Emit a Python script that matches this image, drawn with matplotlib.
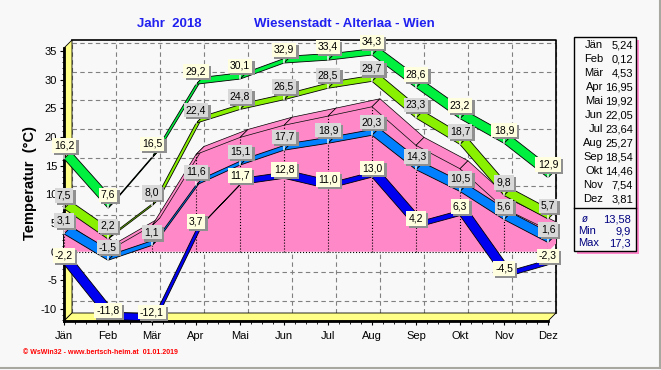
import matplotlib
matplotlib.use("Agg")
import matplotlib.pyplot as plt
import matplotlib.patheffects as pe
from matplotlib.patches import Polygon, Rectangle
import numpy as np

plt.rcParams["font.family"] = ["Liberation Sans", "DejaVu Sans"]
plt.rcParams["axes.unicode_minus"] = False

months = ["Jän", "Feb", "Mär", "Apr", "Mai", "Jun", "Jul", "Aug", "Sep", "Okt", "Nov", "Dez"]
abs_max = [16.2, 7.6, 16.5, 29.2, 30.1, 32.9, 33.4, 34.3, 28.6, 23.2, 18.9, 12.9]
mean_max = [7.5, 2.2, 8.0, 22.4, 24.8, 26.5, 28.5, 29.7, 23.3, 18.7, 9.8, 5.7]
mean_min = [3.1, -1.5, 1.1, 11.6, 15.1, 17.7, 18.9, 20.3, 14.3, 10.5, 5.6, 1.6]
abs_min = [-2.2, -11.8, -12.1, 3.7, 11.7, 12.8, 11.0, 13.0, 4.2, 6.3, -4.5, -2.3]
mean = [5.24, 0.12, 4.53, 16.95, 19.92, 22.05, 23.64, 25.27, 18.54, 14.46, 7.54, 3.81]
stat_names = ["ø", "Min", "Max"]
stat_values = [13.58, 9.9, 17.3]

W, H = 661, 370
BG = "#f8f8f8"
PINK = "#ff88c8"


def de(v, nd=1):
    return f"{v:.{nd}f}".replace(".", ",")


fig = plt.figure(figsize=(W / 100, H / 100), dpi=100, facecolor=BG)

# overlay in pixel coordinates for the text furniture
ov = fig.add_axes([0, 0, 1, 1])
ov.set_xlim(0, W)
ov.set_ylim(H, 0)
ov.axis("off")

# front plane of the pseudo-3D plot
x0, x1, ytop, ybot = 64, 548, 48, 321
ylo, yhi = -12.09, 35.52
ax = fig.add_axes([x0 / W, (H - ybot) / H, (x1 - x0) / W, (ybot - ytop) / H])
ax.set_xlim(0, 11)
ax.set_ylim(ylo, yhi)
ax.patch.set_visible(False)
px_x = (x1 - x0) / 11
px_y = (ybot - ytop) / (yhi - ylo)


def depth(px):
    return px / px_x, px / px_y


xs = np.arange(12)

# back grid, walls, frame
gdx, gdy = depth(8)
for yv in range(-10, 36, 5):
    ax.plot([gdx, 11 + gdx], [yv + gdy] * 2, color="#808080", ls=(0, (4, 3)),
            lw=0.8, zorder=0.5, clip_on=False)
for xv in xs:
    ax.plot([xv + gdx] * 2, [ylo + gdy, yhi + gdy], color="#808080", ls=(0, (4, 3)),
            lw=0.8, zorder=0.5, clip_on=False)
wall = [(0, ylo), (0, yhi), (gdx, yhi + gdy), (gdx, ylo + gdy)]
floor = [(0, ylo), (11, ylo), (11 + gdx, ylo + gdy), (gdx, ylo + gdy)]
for poly in (wall, floor):
    ax.add_patch(Polygon(poly, fc="#ffff88", ec="black", lw=0.6, zorder=1, clip_on=False))
ax.plot([gdx, 11 + gdx, 11 + gdx], [yhi + gdy, yhi + gdy, ylo + gdy], color="black",
        lw=1.2, zorder=1, clip_on=False)

# monthly mean as a pink block
front = [(0, 0)] + list(zip(xs, mean)) + [(11, 0)]
ax.add_patch(Polygon(front, fc=PINK, ec="none", zorder=2, clip_on=False))
for i in range(11):
    top = [(i, mean[i]), (i + 1, mean[i + 1]), (i + 1 + gdx, mean[i + 1] + gdy), (i + gdx, mean[i] + gdy)]
    ax.add_patch(Polygon(top, fc=PINK, ec="black", lw=0.5, zorder=2.1, clip_on=False))
side = [(11, 0), (11, mean[-1]), (11 + gdx, mean[-1] + gdy), (11 + gdx, gdy)]
ax.add_patch(Polygon(side, fc=PINK, ec="none", zorder=2.1, clip_on=False))
ax.vlines(xs, 0, mean, colors="black", linestyles=":", lw=0.8, zorder=2.2)
ax.plot([0, 11], [0, 0], color="black", ls=":", lw=0.8, zorder=2.2)


def ribbon(vals, color, z, d=7):
    ddx, ddy = depth(d)
    for i in range(len(vals) - 1):
        pts = [(xs[i], vals[i]), (xs[i + 1], vals[i + 1]),
               (xs[i + 1] + ddx, vals[i + 1] + ddy), (xs[i] + ddx, vals[i] + ddy)]
        ax.add_patch(Polygon(pts, fc=color, ec="black", lw=0.6, zorder=z, clip_on=False))


shadow = [pe.SimplePatchShadow(offset=(1.5, -1.5), shadow_rgbFace="#909090", alpha=1), pe.Normal()]


def labels(vals, fc, off, z):
    for i, v in enumerate(vals):
        t = ax.annotate(de(v), (i, v), xytext=(0, off), textcoords="offset points",
                        ha="center", va="center", fontsize=7.5, color="black",
                        bbox=dict(boxstyle="square,pad=0.22", fc=fc, ec="none"),
                        arrowprops=dict(arrowstyle="-", color="white", lw=1,
                                        shrinkA=0, shrinkB=0),
                        zorder=z, annotation_clip=False)
        t.get_bbox_patch().set_path_effects(shadow)


ribbon(abs_min, "#0000f0", 3)
ribbon(mean_min, "#0080ff", 3.2)
ribbon(mean_max, "#88f000", 3.4)
ribbon(abs_max, "#00f040", 3.6)
labels(abs_min, "#ffffe0", 6.5, 10)
labels(mean_min, "#d8d8d8", 9.5, 10.2)
labels(mean_max, "#d8d8d8", 9.5, 10.4)
labels(abs_max, "#ffffe0", 9.5, 10.6)

# axes, ticks
for s in ("top", "right"):
    ax.spines[s].set_visible(False)
for s in ("left", "bottom"):
    ax.spines[s].set_linewidth(2)
    ax.spines[s].set_zorder(1.5)
ax.set_xticks(xs, months)
ax.set_xticks(np.arange(0, 11.01, 0.25), minor=True)
ax.set_yticks(range(-10, 36, 5))
ax.set_yticks(range(-12, 36), minor=True)
ax.tick_params(which="major", direction="out", length=3, width=0.8, labelsize=8, pad=2)
ax.tick_params(which="minor", direction="out", length=1.8, width=0.6)
ax.tick_params(axis="x", which="major", pad=4)

# titles and axis label
ov.text(137, 24, "Jahr  2018", color="#2020f0", fontsize=9.5, fontweight="bold", va="center")
ov.text(254, 24, "Wiesenstadt - Alterlaa - Wien", color="#2020f0", fontsize=9.5,
        fontweight="bold", va="center")
ov.text(30, 183, "Temperatur  (°C)", rotation=90, fontsize=10.5, fontweight="bold",
        ha="center", va="center")

# monthly mean table
ov.add_patch(Rectangle((577, 40), 62, 214, fc="#ff88cc", ec="none"))
ov.add_patch(Rectangle((574, 37), 62, 214, fc=BG, ec="black", lw=1))
ov.plot([574, 636], [208, 208], color="black", lw=1)
for i, (m, v) in enumerate(zip(months, mean)):
    y = 45 + 14 * i
    ov.text(603, y, m, ha="right", va="center", fontsize=8)
    ov.text(633, y, de(v, 2), ha="right", va="center", fontsize=8)
for i, (n, v) in enumerate(zip(stat_names, stat_values)):
    y = 219 + 12 * i
    nd = 2 if i == 0 else 1
    if i == 0:
        ov.text(585, y, n, ha="center", va="center", fontsize=7, style="italic", color="#000080")
    else:
        ov.text(578, y, n, ha="left", va="center", fontsize=8, color="#000080")
    ov.text(631, y, de(v, nd), ha="right", va="center", fontsize=8, color="#000080")

# footer and window border
ov.text(23, 352, "© WsWin32 - www.bertsch-heim.at  01.01.2019", color="red", fontsize=5,
        fontweight="bold", va="center")
ov.plot([659.5, 659.5], [0, 368], color="#a8a8a0", lw=1.5)
ov.plot([0, 660], [367.5, 367.5], color="#a8a8a0", lw=1.5)

fig.savefig("out.png", dpi=100, facecolor=BG)
